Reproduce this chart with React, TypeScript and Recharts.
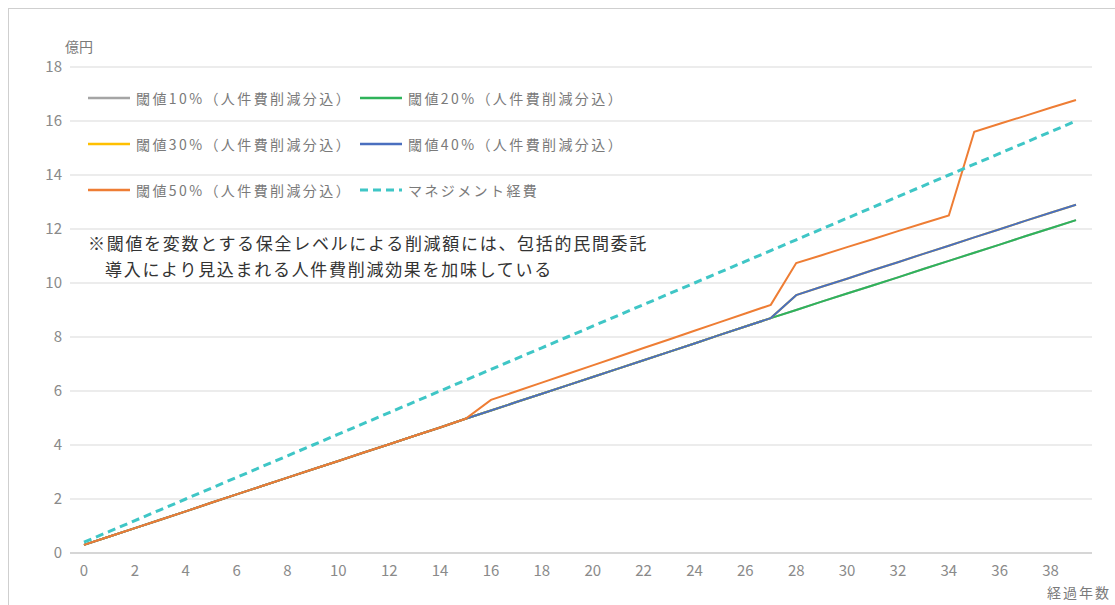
import React from 'react';
import { LineChart, Line, XAxis, YAxis, CartesianGrid } from 'recharts';

// 経過年数 0..39
const years = [
  0, 1, 2, 3, 4, 5, 6, 7, 8, 9, 10, 11, 12, 13, 14, 15, 16, 17, 18, 19,
  20, 21, 22, 23, 24, 25, 26, 27, 28, 29, 30, 31, 32, 33, 34, 35, 36, 37, 38, 39,
];

// 億円
const th10 = [
  0.30, 0.61, 0.92, 1.23, 1.54, 1.86, 2.17, 2.48, 2.79, 3.10, 3.41, 3.72, 4.03, 4.34, 4.65, 4.97, 5.28, 5.59, 5.90, 6.21,
  6.52, 6.83, 7.14, 7.45, 7.76, 8.08, 8.39, 8.70, 9.00, 9.31, 9.61, 9.91, 10.21, 10.52, 10.82, 11.12, 11.42, 11.73, 12.03, 12.33,
];
const th20 = [
  0.30, 0.61, 0.92, 1.23, 1.54, 1.86, 2.17, 2.48, 2.79, 3.10, 3.41, 3.72, 4.03, 4.34, 4.65, 4.97, 5.28, 5.59, 5.90, 6.21,
  6.52, 6.83, 7.14, 7.45, 7.76, 8.08, 8.39, 8.70, 9.00, 9.31, 9.61, 9.91, 10.21, 10.52, 10.82, 11.12, 11.42, 11.73, 12.03, 12.33,
];
const th30 = [
  0.30, 0.61, 0.92, 1.23, 1.54, 1.86, 2.17, 2.48, 2.79, 3.10, 3.41, 3.72, 4.03, 4.34, 4.65, 4.97, 5.28, 5.59, 5.90, 6.21,
  6.52, 6.83, 7.14, 7.45, 7.76, 8.08, 8.39, 8.70, 9.55, 9.86, 10.16, 10.47, 10.77, 11.08, 11.38, 11.69, 11.99, 12.30, 12.60, 12.90,
];
const th40 = [
  0.30, 0.61, 0.92, 1.23, 1.54, 1.86, 2.17, 2.48, 2.79, 3.10, 3.41, 3.72, 4.03, 4.34, 4.65, 4.97, 5.28, 5.59, 5.90, 6.21,
  6.52, 6.83, 7.14, 7.45, 7.76, 8.08, 8.39, 8.70, 9.55, 9.86, 10.16, 10.47, 10.77, 11.08, 11.38, 11.69, 11.99, 12.30, 12.60, 12.90,
];
const th50 = [
  0.30, 0.61, 0.92, 1.23, 1.54, 1.86, 2.17, 2.48, 2.79, 3.10, 3.41, 3.72, 4.03, 4.34, 4.65, 4.97, 5.67, 5.99, 6.31, 6.63,
  6.95, 7.27, 7.59, 7.91, 8.23, 8.55, 8.87, 9.19, 10.74, 11.03, 11.33, 11.62, 11.92, 12.21, 12.50, 15.60, 15.90, 16.19, 16.49, 16.78,
];
const mgmt = [
  0.40, 0.80, 1.20, 1.60, 2.00, 2.40, 2.80, 3.20, 3.60, 4.00, 4.40, 4.80, 5.20, 5.60, 6.00, 6.40, 6.80, 7.20, 7.60, 8.00,
  8.40, 8.80, 9.20, 9.60, 10.00, 10.40, 10.80, 11.20, 11.60, 12.00, 12.40, 12.80, 13.20, 13.60, 14.00, 14.40, 14.80, 15.20, 15.60, 16.00,
];

const xTicks = [0, 2, 4, 6, 8, 10, 12, 14, 16, 18, 20, 22, 24, 26, 28, 30, 32, 34, 36, 38];
const yTicks = [0, 2, 4, 6, 8, 10, 12, 14, 16, 18];

const seriesNames = [
  '閾値10%（人件費削減分込）',
  '閾値20%（人件費削減分込）',
  '閾値30%（人件費削減分込）',
  '閾値40%（人件費削減分込）',
  '閾値50%（人件費削減分込）',
  'マネジメント経費',
];
const seriesKeys = ['th10', 'th20', 'th30', 'th40', 'th50', 'mgmt'];
const seriesColors = ['#a5a5a5', '#2fb35a', '#ffc000', '#4a6fbf', '#ee7d34', '#3fc6c6'];

const noteLines = [
  '※閾値を変数とする保全レベルによる削減額には、包括的民間委託',
  '導入により見込まれる人件費削減効果を加味している',
];

const data = years.map((y, i) => ({
  year: y,
  th10: th10[i],
  th20: th20[i],
  th30: th30[i],
  th40: th40[i],
  th50: th50[i],
  mgmt: mgmt[i],
}));

const FONT = '"Noto Sans CJK JP", "Noto Sans", sans-serif';

const LegendItem = ({ idx, left, top }: { idx: number; left: number; top: number }) => {
  const dashed = seriesKeys[idx] === 'mgmt';
  return (
    <div style={{ position: 'absolute', left, top, height: 20, display: 'flex', alignItems: 'center' }}>
      <svg width={44} height={6} style={{ marginRight: 4 }}>
        <line
          x1={0}
          x2={42}
          y1={3}
          y2={3}
          stroke={seriesColors[idx]}
          strokeWidth={dashed ? 3 : 2.5}
          strokeDasharray={dashed ? '8 5' : undefined}
        />
      </svg>
      <span style={{ fontSize: 14, color: '#7a7a7a', letterSpacing: 2.4, whiteSpace: 'nowrap' }}>{seriesNames[idx]}</span>
    </div>
  );
};

export default function App() {
  return (
    <div style={{ position: 'absolute', left: 0, top: 0, width: 1115, height: 605, overflow: 'hidden', background: '#fff', fontFamily: FONT }}>
      {/* outer frame */}
      <div style={{ position: 'absolute', left: 8, top: 8, width: 1200, height: 700, borderLeft: '1px solid #cfcfcf', borderTop: '1px solid #cfcfcf' }} />

      <LineChart width={1115} height={605} data={data} margin={{ top: 67, right: 23, bottom: 0, left: 0 }} style={{ position: 'absolute', left: 0, top: 0 }}>
        <CartesianGrid vertical={false} stroke="#d9d9d9" strokeWidth={1.2} />
        <XAxis
          dataKey="year"
          type="number"
          domain={[0, 39]}
          ticks={xTicks}
          padding={{ left: 14, right: 16 }}
          tickLine={false}
          tickSize={0}
          tickMargin={12}
          stroke="#cfcfcf"
          strokeWidth={1.5}
          height={52}
          tick={{ fill: '#8a8a8a', fontSize: 15, fontFamily: FONT }}
          interval={0}
        />
        <YAxis
          type="number"
          domain={[0, 18]}
          ticks={yTicks}
          width={70}
          axisLine={false}
          tickLine={false}
          tickSize={0}
          tickMargin={8}
          tick={{ fill: '#8a8a8a', fontSize: 15, fontFamily: FONT }}
          interval={0}
        />
        {seriesKeys.map((k, i) => (
          <Line
            key={k}
            dataKey={k}
            type="linear"
            stroke={seriesColors[i]}
            strokeWidth={k === 'mgmt' ? 3 : 2}
            strokeDasharray={k === 'mgmt' ? '8 5' : undefined}
            dot={false}
            activeDot={false}
            isAnimationActive={false}
          />
        ))}
      </LineChart>

      {/* axis titles */}
      <div style={{ position: 'absolute', left: 65, top: 36, fontSize: 14, color: '#7a7a7a' }}>億円</div>
      <div style={{ position: 'absolute', left: 1047, top: 582, fontSize: 14, color: '#7a7a7a', letterSpacing: 2 }}>経過年数</div>

      {/* legend */}
      <LegendItem idx={0} left={88} top={88} />
      <LegendItem idx={1} left={360} top={88} />
      <LegendItem idx={2} left={88} top={134} />
      <LegendItem idx={3} left={360} top={134} />
      <LegendItem idx={4} left={88} top={180} />
      <LegendItem idx={5} left={360} top={180} />

      {/* note */}
      <div style={{ position: 'absolute', left: 88, top: 230, fontSize: 17, color: '#333', letterSpacing: 1.7, lineHeight: '26px', whiteSpace: 'nowrap' }}>
        <div>{noteLines[0]}</div>
        <div style={{ paddingLeft: 17 }}>{noteLines[1]}</div>
      </div>
    </div>
  );
}
